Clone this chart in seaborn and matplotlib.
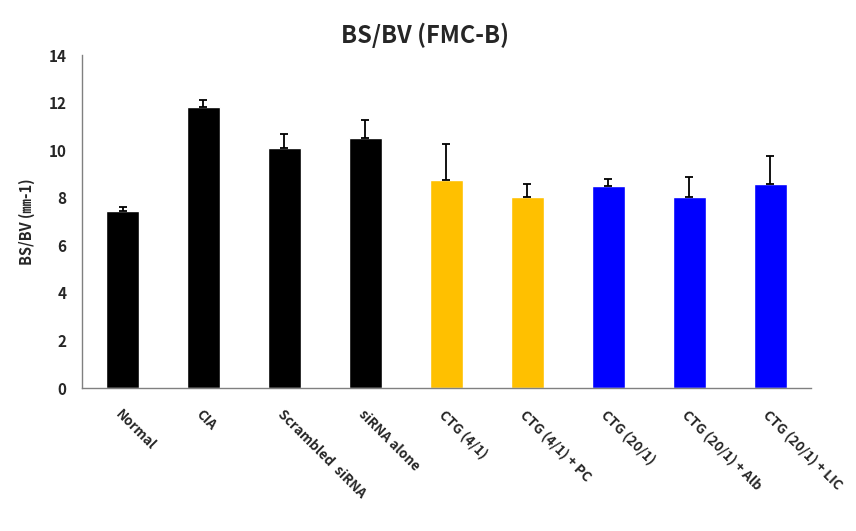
import numpy as np
import pandas as pd
import matplotlib
matplotlib.use("Agg")
import matplotlib.pyplot as plt
import seaborn as sns

# values
groups = ['Normal', 'CIA', 'Scrambled  siRNA', 'siRNA alone', 'CTG (4/1)',
          'CTG (4/1) + PC', 'CTG (20/1)', 'CTG (20/1) + Alb', 'CTG (20/1) + LIC']
means = [7.44, 11.81, 10.09, 10.49, 8.74, 8.03, 8.49, 8.03, 8.58]
errors = [0.16, 0.28, 0.57, 0.76, 1.50, 0.55, 0.28, 0.83, 1.17]
bar_colors = ['#000000'] * 4 + ['#FFC000'] * 2 + ['#0000FF'] * 3

sns.set_style('white')
plt.rcParams['font.family'] = ['Noto Sans CJK KR', 'DejaVu Sans']
plt.rcParams['font.weight'] = 'bold'

df = pd.DataFrame({'group': groups, 'value': means})

fig = plt.figure(figsize=(8.56, 5.31), dpi=100)
ax = fig.add_axes([0.0958, 0.2693, 0.8516, 0.6271])

sns.barplot(data=df, x='group', y='value', hue='group', palette=bar_colors,
            width=0.40, legend=False, saturation=1, ax=ax)

x = np.arange(len(groups))
ax.errorbar(x, means, yerr=[np.zeros(len(errors)), errors], fmt='none',
            ecolor='black', elinewidth=1.3, capsize=3, capthick=1.3)

ax.set_xlim(-0.5, len(groups) - 0.5)
ax.set_ylim(0, 14)
ax.set_yticks(range(0, 15, 2))

# ticks between categories, labels under bar centres
ax.set_xticks(x)
ax.set_xticklabels(groups, rotation=-45, ha='left', va='top',
                   rotation_mode='anchor', fontsize=9.8, fontweight='bold')
ax.set_xticks(np.arange(-0.5, len(groups)), minor=True)
ax.tick_params(axis='x', which='major', length=0, pad=14)
ax.tick_params(axis='x', which='minor', length=5, color='#808080', direction='out')
ax.tick_params(axis='y', length=5, color='#808080', direction='out',
               labelsize=11, pad=6)
for lbl in ax.get_yticklabels():
    lbl.set_fontweight('bold')

for side in ['top', 'right']:
    ax.spines[side].set_visible(False)
for side in ['left', 'bottom']:
    ax.spines[side].set_color('#808080')
    ax.spines[side].set_linewidth(1.0)

ax.set_xlabel('')
ax.set_ylabel('BS/BV (㎜-1)', fontsize=10.5, fontweight='bold', labelpad=10)
fig.text(425 / 856, 1 - 35 / 531, 'BS/BV (FMC-B)', fontsize=17,
         fontweight='bold', ha='center', va='center')

fig.savefig('out.png', dpi=100)
